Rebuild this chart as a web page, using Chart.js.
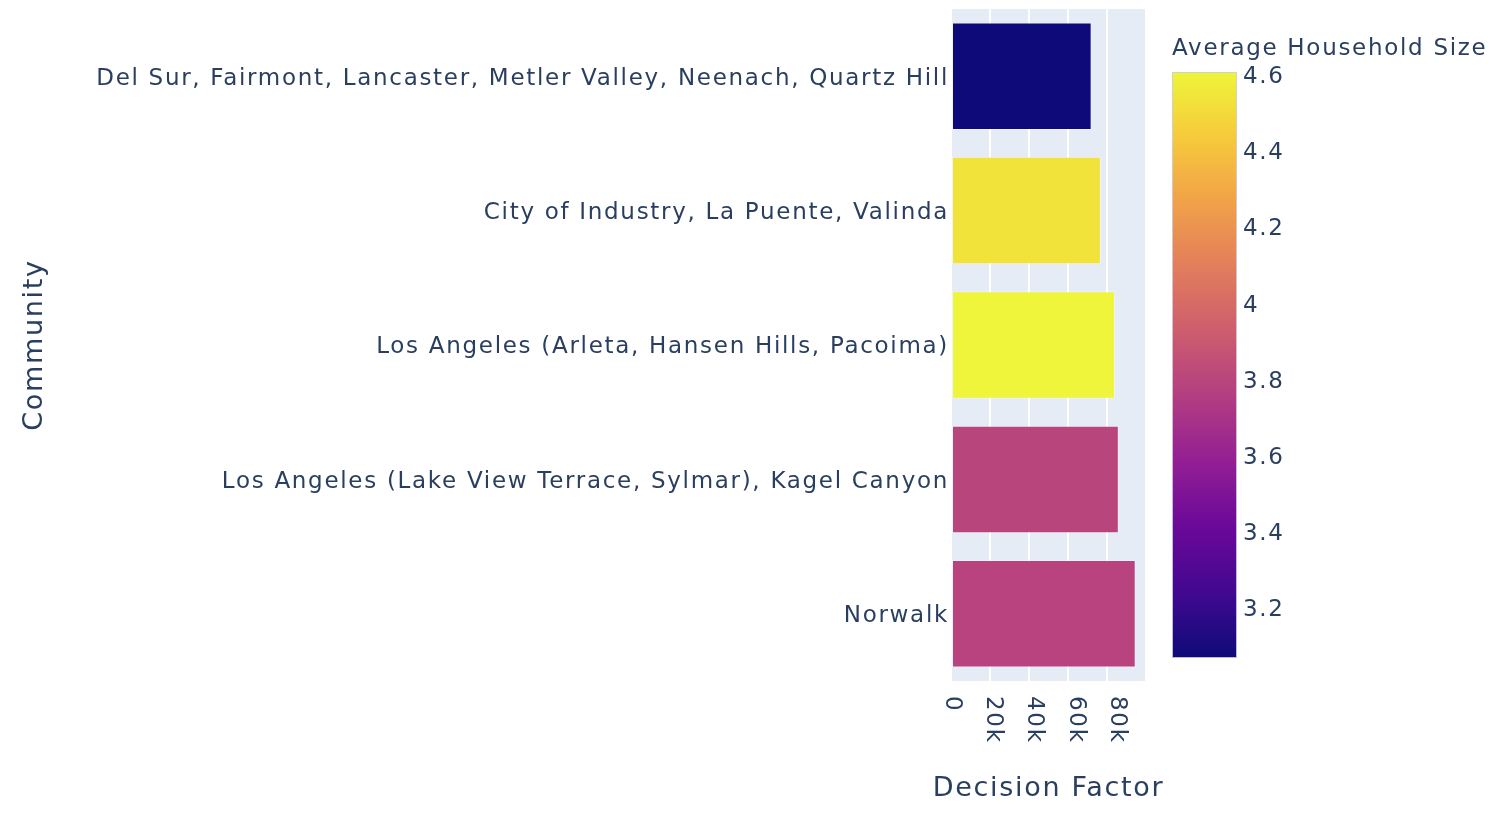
<!DOCTYPE html>
<html>
<head>
<meta charset="utf-8">
<script src="https://cdn.jsdelivr.net/npm/chart.js@4.4.1/dist/chart.umd.min.js"></script>
<style>
html,body{margin:0;padding:0;background:#ffffff;overflow:hidden}
#wrap{width:1508px;height:826px;position:relative}
canvas{display:block}
</style>
</head>
<body>
<div id="wrap"><canvas id="c" width="1508" height="826"></canvas></div>
<script>
// ---- data ----
const communities = [
  'Del Sur, Fairmont, Lancaster, Metler Valley, Neenach, Quartz Hill',
  'City of Industry, La Puente, Valinda',
  'Los Angeles (Arleta, Hansen Hills, Pacoima)',
  'Los Angeles (Lake View Terrace, Sylmar), Kagel Canyon',
  'Norwalk'
];
const decisionFactor = [68300, 72800, 79600, 81500, 89700];
const householdSize = [3.07, 4.54, 4.61, 3.80, 3.79];
const xTickValues = [0, 20000, 40000, 60000, 80000];
const xTickLabels = ['0', '20k', '40k', '60k', '80k'];
const colorbarTickValues = [3.2, 3.4, 3.6, 3.8, 4.0, 4.2, 4.4, 4.6];
const colorbarTickLabels = ['3.2', '3.4', '3.6', '3.8', '4', '4.2', '4.4', '4.6'];
const xAxisMax = 94700;
const xTitle = 'Decision Factor';
const yTitle = 'Community';
const colorbarTitle = 'Average Household Size';

// ---- style ----
const plasma = ['#0d0887','#46039f','#7201a8','#9c179e','#bd3786','#d8576b','#ed7953','#fb9f3a','#fdca26','#f0f921'];
const MUTE = 0.13;
const textColor = '#2a3f5f';
const FONT = 'DejaVu Sans';
const SPACING = '1.7px';
const TICK_SIZE = 23;
const TITLE_SIZE = 27;
const cmin = Math.min(...householdSize);
const cmax = Math.max(...householdSize);

function hexToRgb(h){return [parseInt(h.slice(1,3),16),parseInt(h.slice(3,5),16),parseInt(h.slice(5,7),16)];}
function mute(c){
  const l = 0.299*c[0] + 0.587*c[1] + 0.114*c[2];
  return c.map(x => Math.round(x + (l - x) * MUTE));
}
const stops = plasma.map(h => mute(hexToRgb(h)));
function rgbStr(c){return 'rgb(' + c.join(',') + ')';}
function colorFor(v){
  let t = (v - cmin) / (cmax - cmin);
  t = Math.min(Math.max(t,0),1);
  const n = stops.length - 1;
  const p = t * n;
  const i = Math.min(Math.floor(p), n - 1);
  const f = p - i;
  const a = stops[i], b = stops[i+1];
  return rgbStr(a.map((x,k)=>Math.round(x + (b[k]-x)*f)));
}

const drawPlugin = {
  id: 'drawExtras',
  beforeUpdate(chart){ chart.ctx.letterSpacing = SPACING; },
  beforeDraw(chart){
    const ctx = chart.ctx;
    ctx.letterSpacing = SPACING;
    ctx.save();
    ctx.fillStyle = '#ffffff';
    ctx.fillRect(0,0,chart.width,chart.height);
    const a = chart.chartArea;
    ctx.fillStyle = '#e5ecf6';
    ctx.fillRect(a.left, a.top, a.right - a.left, a.bottom - a.top);
    ctx.restore();
  },
  afterDraw(chart){
    const ctx = chart.ctx;
    const xs = chart.scales.x;
    ctx.save();
    ctx.letterSpacing = SPACING;
    ctx.fillStyle = textColor;
    ctx.font = TICK_SIZE + 'px "' + FONT + '"';
    // rotated x tick labels (clockwise 90deg)
    xTickValues.forEach((v,i)=>{
      const px = xs.getPixelForValue(v);
      ctx.save();
      ctx.translate(px + 1, 696);
      ctx.rotate(Math.PI/2);
      ctx.textAlign = 'left';
      ctx.textBaseline = 'middle';
      ctx.fillText(xTickLabels[i], 0, 0);
      ctx.restore();
    });
    // x axis title
    ctx.save();
    ctx.font = TITLE_SIZE + 'px "' + FONT + '"';
    ctx.textAlign = 'center';
    ctx.textBaseline = 'middle';
    ctx.fillText(xTitle, (xs.left + xs.right) / 2, 789);
    ctx.restore();
    // colorbar
    const cbL = 1172, cbR = 1237, cbT = 72, cbB = 658;
    const g = ctx.createLinearGradient(0, cbB, 0, cbT);
    stops.forEach((c,i)=>g.addColorStop(i/(stops.length-1), rgbStr(c)));
    ctx.fillStyle = g;
    ctx.fillRect(cbL, cbT, cbR - cbL, cbB - cbT);
    ctx.strokeStyle = 'rgba(205,205,220,0.9)';
    ctx.lineWidth = 1;
    ctx.strokeRect(cbL + 0.5, cbT + 0.5, cbR - cbL - 1, cbB - cbT - 1);
    ctx.fillStyle = textColor;
    ctx.textAlign = 'left';
    ctx.textBaseline = 'middle';
    colorbarTickValues.forEach((v,i)=>{
      const py = cbB - (v - cmin) / (cmax - cmin) * (cbB - cbT);
      ctx.fillText(colorbarTickLabels[i], 1243, py + 1.5);
    });
    ctx.fillText(colorbarTitle, 1172, 49);
    ctx.restore();
  }
};

Chart.defaults.font.family = FONT;
Chart.defaults.color = textColor;

new Chart(document.getElementById('c'), {
  type: 'bar',
  data: {
    labels: communities,
    datasets: [{
      label: xTitle,
      data: decisionFactor,
      backgroundColor: householdSize.map(colorFor),
      borderColor: 'rgba(255,255,255,0.4)',
      borderWidth: 1,
      borderSkipped: false,
      barPercentage: 0.8,
      categoryPercentage: 1.0
    }]
  },
  options: {
    indexAxis: 'y',
    responsive: false,
    animation: false,
    devicePixelRatio: 1,
    layout: { padding: { left: 0, right: 362, top: 9, bottom: 0 } },
    plugins: { legend: { display: false }, tooltip: { enabled: false } },
    scales: {
      x: {
        type: 'linear',
        position: 'bottom',
        min: 0,
        max: xAxisMax,
        grid: { color: '#ffffff', lineWidth: 2, drawTicks: false },
        border: { display: false },
        ticks: { display: false, stepSize: 20000, includeBounds: false },
        title: { display: false },
        afterFit(s){ s.height = 145; s.paddingLeft = 0; s.paddingRight = 0; }
      },
      y: {
        type: 'category',
        grid: { display: false, drawTicks: false },
        border: { display: false },
        ticks: { color: textColor, font: { family: FONT, size: TICK_SIZE }, padding: 2, autoSkip: false, labelOffset: 2.5 },
        title: { display: true, text: yTitle, color: textColor,
                 font: { family: FONT, size: TITLE_SIZE }, padding: { top: 19, bottom: 0 } },
        afterFit(s){ s.width = 951; s.paddingTop = 0; s.paddingBottom = 0; }
      }
    }
  },
  plugins: [drawPlugin]
});
</script>
</body>
</html>
